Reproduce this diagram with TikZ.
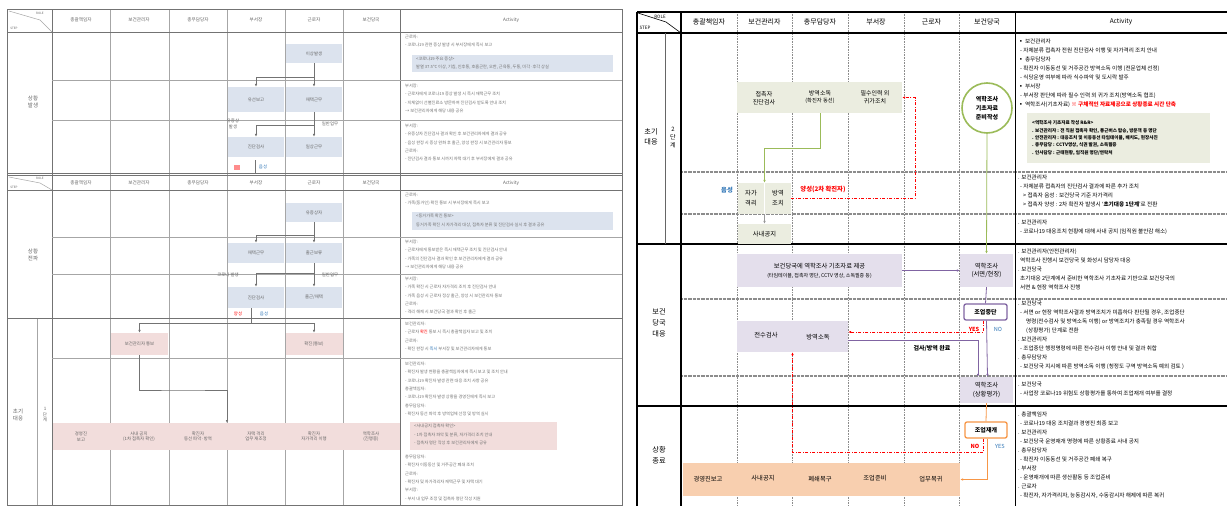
\documentclass[tikz,border=0pt]{standalone}
\usepackage{fontspec}
\setmainfont{Noto Sans CJK KR}
\usetikzlibrary{arrows.meta}
\definecolor{gfill}{HTML}{EBEDE0}
\definecolor{lilac}{HTML}{E4DFEC}
\definecolor{peach}{HTML}{F8CFAF}
\definecolor{cgreen}{HTML}{9BBB59}
\definecolor{cpur}{HTML}{8064A2}
\definecolor{corg}{HTML}{F79646}
\definecolor{cblue}{HTML}{2E75B6}
\definecolor{lblue}{HTML}{DCE3EE}
\definecolor{lpink}{HTML}{F2DDDC}
\tikzset{
  hdr/.style={font=\fontsize{7}{8}\selectfont},
  lhdr/.style={font=\fontsize{4.6}{5}\selectfont, text=black!60},
  bx/.style={inner sep=0, align=center, font=\fontsize{6}{7.6}\selectfont},
  txt/.style={inner sep=0, align=center, font=\fontsize{6}{7.6}\selectfont},
  act/.style={anchor=north west, inner sep=0, align=left, font=\fontsize{5.6}{9}\selectfont},
  lact/.style={anchor=north west, inner sep=0, align=left, font=\fontsize{4.2}{8.3}\selectfont, text=black!55},
  lbx/.style={inner sep=0, align=center, font=\fontsize{4.4}{5.4}\selectfont, text=black!60},
  arr/.style={-{Latex[length=3pt,width=2.6pt]}},
  colsep/.style={draw=black!45, line width=0.6pt, densely dotted},
  subrow/.style={draw=black!45, line width=1.6pt, dash pattern=on 0.8pt off 0.5pt},
  major/.style={draw=black, line width=1.1pt},
  grn/.style={draw=cgreen, line width=0.8pt},
  pur/.style={draw=cpur, line width=0.8pt},
  org/.style={draw=corg, line width=0.8pt},
  gry/.style={draw=black!40, line width=0.8pt},
  rdash/.style={draw=red, line width=0.9pt, dash pattern=on 3pt off 1.5pt on 1pt off 1.5pt},
  lline/.style={draw=black!35, line width=0.5pt},
  lmajor/.style={draw=black!55, line width=0.9pt},
  lconn/.style={draw=black!55, line width=0.6pt},
}
\begin{document}
\begin{tikzpicture}[x=1pt,y=-1pt]
\useasboundingbox (0,0) rectangle (1227,506);
\fill[white] (0,0) rectangle (1227,506);

%================ LEFT PANEL =================
\foreach \xx in {110,169,227,285,343} \draw[lline] (\xx,9) -- (\xx,505);
\draw[lmajor] (52,9) -- (52,505);
\draw[lmajor] (400,9) -- (400,505);
\draw[lmajor] (7,9) rectangle (622,505);
\draw[lline] (37,318) -- (37,505);
\draw[lmajor] (7,32) -- (622,32);
\draw[lline] (52,80) -- (622,80);
\draw[lline] (52,120) -- (622,120);
\draw[lmajor] (7,173) -- (622,173);
\draw[lmajor] (7,175) -- (622,175);
\draw[lmajor] (7,190) -- (622,190);
\draw[lline] (52,237) -- (622,237);
\draw[lline] (52,274) -- (622,274);
\draw[lmajor] (7,318) -- (622,318);
\draw[lline] (52,358) -- (622,358);
\draw[lline] (9,11) -- (40,20) -- (52,32);
\draw[lline] (9,177) -- (40,183) -- (52,190);
\node[lhdr, font=\fontsize{3}{3}\selectfont] at (40,13) {ROLE};
\node[lhdr, font=\fontsize{3}{3}\selectfont] at (14,28) {STEP};
\node[lhdr, font=\fontsize{3}{3}\selectfont] at (40,178) {ROLE};
\node[lhdr, font=\fontsize{3}{3}\selectfont] at (14,187) {STEP};
\foreach \yy in {20,183} {
  \node[lhdr] at (81,\yy) {총괄책임자};
  \node[lhdr] at (139,\yy) {보건관리자};
  \node[lhdr] at (198,\yy) {총무담당자};
  \node[lhdr] at (256,\yy) {부서장};
  \node[lhdr] at (314,\yy) {근로자};
  \node[lhdr] at (371,\yy) {보건당국};
  \node[lhdr] at (511,\yy) {Activity};
}
\node[lbx, font=\fontsize{5.5}{7}\selectfont] (ls1) at (33,102) {상황\\발생};
\node[lbx, font=\fontsize{5.5}{7}\selectfont] (ls2) at (33,255) {상황\\전파};
\node[lbx, font=\fontsize{5.5}{7}\selectfont] (ls3) at (18,415) {초기\\대응};
\node[lbx, font=\fontsize{4.5}{5.5}\selectfont] (ls3b) at (45,415) {1\\단\\계};

\node[lbx, fill=lblue, minimum width=56, minimum height=19] (a1) at (314,53.5) {이상발생};
\node[lbx, fill=lblue, minimum width=56, minimum height=25] (a2) at (256,99.5) {유선보고};
\node[lbx, fill=lblue, minimum width=56, minimum height=25] (a3) at (314,99.5) {재택근무};
\node[lbx, fill=lblue, minimum width=56, minimum height=20] (a4) at (256,147) {진단검사};
\node[lbx, fill=lblue, minimum width=56, minimum height=20] (a5) at (314,147) {일상근무};
\draw[lconn] (a1.south) -- (314,77);
\draw[lconn,arr] (314,77) -| (a2.north);
\draw[lconn,arr] (314,77) -- (a3.north);
\draw[lconn] (a3.south) -- (314,125);
\draw[lconn,arr] (314,125) -| (a4.north);
\draw[lconn,arr] (314,125) -- (a5.north);
\node[lbx] at (233,124) {유증상\\발생};
\node[lbx] at (330,124) {일반업무};
\node[lbx, fill=red!45, minimum width=6, minimum height=5] (a6) at (237,167) {};
\node[lbx, text=cblue] (a7) at (263,167) {음성};
\draw[lconn] (255,160) -- (255,173);

\node[lbx, fill=lblue, minimum width=56, minimum height=19] (b1) at (314,212.5) {유증상자};
\node[lbx, fill=lblue, minimum width=56, minimum height=20] (b2) at (256,253) {재택근무};
\node[lbx, fill=lblue, minimum width=56, minimum height=20] (b3) at (314,253) {출근보류};
\node[lbx, fill=lblue, minimum width=56, minimum height=21] (b4) at (256,297.5) {진단검사};
\node[lbx, fill=lblue, minimum width=56, minimum height=21] (b5) at (314,297.5) {출근/재택};
\draw[lconn] (b1.south) -- (314,235);
\draw[lconn,arr] (314,235) -| (b2.north);
\draw[lconn,arr] (314,235) -- (b3.north);
\draw[lconn] (b3.south) -- (314,273);
\draw[lconn,arr] (314,273) -| (b4.north);
\draw[lconn,arr] (314,273) -- (b5.north);
\node[lbx] at (228,275) {코로나 발생};
\node[lbx] at (330,275) {일반업무};
\node[lbx, text=red] (b6) at (238,314) {양성};
\node[lbx, text=cblue] (b7) at (264,314) {음성};
\draw[lconn] (251,308) -- (251,323);

\node[lbx, fill=lpink, minimum width=57, minimum height=22] (c1) at (139.5,344) {보건관리자 통보};
\node[lbx, fill=lpink, minimum width=57, minimum height=22] (c2) at (314,344) {확진(통보)};
\draw[lconn,arr] (251,323) -| (c1.north);
\draw[lconn,arr] (251,323) -| (c2.north);
\fill[lpink] (53,423) rectangle (400,450);
\coordinate (c3) at (227,423);
\draw[lconn,arr] (c1.south) |- (183,390) -| (c3);
\node[lbx] at (81,436.5) {경영진\\보고};
\node[lbx] at (139,436.5) {사내 공지\\(1차 접촉자 확인)};
\node[lbx] at (198,436.5) {확진자\\동선 파악·방역};
\node[lbx] at (256,436.5) {자택 격리\\업무 재조정};
\node[lbx] at (314,436.5) {확진자\\자가격리 이행};
\node[lbx] at (371,436.5) {역학조사\\(진행중)};

\node[lact] at (405,35) {근로자:\\ - 코로나19 관련 증상 발생 시 부서장에게 즉시 보고};
\fill[lblue] (412,55) rectangle (613,72);
\node[lact] at (416,57) {<코로나19 주요 증상>\\ 발열 37.5℃ 이상, 기침, 인후통, 호흡곤란, 오한, 근육통, 두통, 미각·후각 상실};
\node[lact] at (405,84) {부서장:\\ - 근로자에게 코로나19 증상 발생 시 즉시 재택근무 조치\\ - 지체없이 선별진료소 방문하여 진단검사 받도록 안내 조치\\ → 보건관리자에게 해당 내용 공유};
\node[lact] at (405,124) {부서장:\\ - 유증상자 진단검사 결과 확인 후 보건관리자에게 결과 공유\\ - 음성 판정 시 증상 완화 후 출근, 양성 판정 시 보건관리자 통보\\ 근로자:\\ - 진단검사 결과 통보 시까지 자택 대기 후 부서장에게 결과 공유};
\node[lact] at (405,193) {근로자:\\ - 가족(동거인) 확진 통보 시 부서장에게 즉시 보고};
\fill[lblue] (412,212) rectangle (613,230);
\node[lact] at (416,214) {<동거가족 확진 통보>\\ 동거가족 확진 시 자가격리 대상, 접촉자 분류 및 진단검사 실시 후 결과 공유};
\node[lact] at (405,240) {부서장:\\ - 근로자에게 통보받은 즉시 재택근무 조치 및 진단검사 안내\\ - 가족의 진단검사 결과 확인 후 보건관리자에게 결과 공유\\ → 보건관리자에게 해당 내용 공유};
\node[lact] at (405,277) {부서장:\\ - 가족 확진 시 근로자 자가격리 조치 후 진단검사 안내\\ - 가족 음성 시 근로자 정상 출근, 양성 시 보건관리자 통보\\ 근로자:\\ - 격리 해제 시 보건당국 결과 확인 후 출근};
\node[lact] at (405,322) {보건관리자:\\ - 근로자 {\color{red}확진} 통보 시 즉시 총괄책임자 보고 및 조치\\ 근로자:\\ - 확진 판정 시 {\color{cblue}즉시} 부서장 및 보건관리자에게 통보};
\node[lact] at (405,362) {보건관리자:\\ - 확진자 발생 현황을 총괄책임자에게 즉시 보고 및 조치 안내\\ - 코로나19 확진자 발생 관련 대응 조치 사항 공유\\ 총괄책임자:\\ - 코로나19 확진자 발생 상황을 경영진에게 즉시 보고\\ 총무담당자:\\ - 확진자 동선 파악 후 방역업체 선정 및 방역 실시};
\fill[lpink] (410,422) rectangle (557,450);
\node[lact] at (414,424) {<사내공지 접촉자 확인>\\ - 1차 접촉자 파악 및 분류, 자가격리 조치 안내\\ - 접촉자 명단 작성 후 보건관리자에게 공유};
\node[lact] at (405,455) {총무담당자:\\ - 확진자 이동동선 및 거주공간 폐쇄 조치\\ 근로자:\\ - 확진자 및 자가격리자 재택근무 및 자택 대기\\ 부서장:\\ - 부서 내 업무 조정 및 접촉자 명단 작성 지원};

%================ RIGHT PANEL =================
\foreach \xx in {737,792,848,904,959} \draw[colsep] (\xx,12) -- (\xx,506);
\draw[subrow] (681,172) -- (1227,172);
\draw[subrow] (681,214) -- (1227,214);
\draw[subrow] (681,299) -- (1227,299);
\draw[subrow] (681,376) -- (1227,376);
\draw[major] (637,12) -- (1227,12);
\draw[major] (637,33) -- (1227,33);
\draw[major] (637,244) -- (1227,244);
\draw[major] (637,406) -- (1227,406);
\draw[major] (637,12) -- (637,506);
\draw[major] (681,12) -- (681,506);
\draw[draw=black, line width=0.8pt] (1015,12) -- (1015,506);
\draw[draw=black!60, line width=0.7pt] (665,33) -- (665,244);
\draw[draw=black, line width=0.6pt] (638,13) -- (666,22) -- (681,33);
\node[font=\fontsize{4.5}{5}\selectfont, inner sep=0] at (660,17) {ROLE};
\node[font=\fontsize{4.5}{5}\selectfont, inner sep=0] at (645,28) {STEP};
\node[hdr] (h1) at (709,22) {총괄책임자};
\node[hdr] (h2) at (764.5,22) {보건관리자};
\node[hdr] (h3) at (820,22) {총무담당자};
\node[hdr] (h4) at (876,22) {부서장};
\node[hdr] (h5) at (931.5,22) {근로자};
\node[hdr] (h6) at (987,22) {보건당국};
\node[hdr, font=\fontsize{6.5}{8}\selectfont] (h7) at (1121,22) {Activity};
\node[txt, font=\fontsize{7.2}{10}\selectfont] (s1) at (651,137) {초기\\대응};
\node[txt, font=\fontsize{6}{8}\selectfont] (s1b) at (673,138) {2\\단\\계};
\node[txt, font=\fontsize{7.2}{11}\selectfont] (s2) at (659,323) {보건\\당국\\대응};
\node[txt, font=\fontsize{7.2}{11}\selectfont] (s3) at (659,455) {상황\\종료};

\node[bx, fill=gfill, minimum width=165, minimum height=31] (gband) at (819.5,97.5) {};
\node[txt] (g1) at (764,98) {접촉자\\진단검사};
\node[txt] (g2) at (820,97) {방역소독\\{\fontsize{5.3}{7}\selectfont(확진자 동선)}};
\node[txt] (g3) at (875,97) {필수인력 외\\귀가조치};
\node[circle, draw=cgreen, line width=1.6pt, fill=white, minimum size=50, inner sep=0, align=center, font=\fontsize{6}{9}\selectfont\bfseries] (circ) at (987,108) {역학조사\\기초자료\\준비작성};
\node[bx, fill=gfill, minimum width=53, minimum height=31] (jj) at (764.5,198.5) {};
\draw[white, line width=1pt] (jj.north) -- (jj.south);
\node[txt, font=\fontsize{6.3}{10}\selectfont] (jj1) at (751,198.5) {자가\\격리};
\node[txt, font=\fontsize{6.3}{10}\selectfont] (jj2) at (778,198.5) {방역\\조치};
\node[bx, fill=gfill, minimum width=53, minimum height=20, font=\fontsize{6.3}{8}\selectfont] (sanae) at (764.5,234) {사내공지};
\node[bx, fill=lilac, minimum width=165, minimum height=33, font=\fontsize{6.3}{9}\selectfont] (bk) at (819.5,270.5) {보건당국에 역학조사 기초자료 제공\\{\fontsize{5}{7}\selectfont(타임테이블, 접촉자 명단, CCTV 영상, 소독필증 등)}};
\node[bx, fill=lilac, minimum width=53, minimum height=33, font=\fontsize{6.3}{8.5}\selectfont] (ep1) at (986.5,270.5) {역학조사\\(서면/현장)};
\node[bx, draw=cpur, line width=1.3pt, rounded corners=2pt, fill=white, minimum width=43, minimum height=16, font=\fontsize{6}{7}\selectfont\bfseries] (stop) at (985.5,312) {조업중단};
\node[bx, fill=lilac, minimum width=111, minimum height=31] (ts) at (792.5,336.5) {};
\node[txt, font=\fontsize{6.3}{8}\selectfont] (ts1) at (766,335) {전수검사};
\node[txt, font=\fontsize{6.3}{8}\selectfont] (ts2) at (818,337) {방역소독};
\node[bx, fill=lilac, minimum width=53, minimum height=26, font=\fontsize{6.3}{8.5}\selectfont] (ep2) at (986.5,390) {역학조사\\(상황평가)};
\node[bx, draw=corg, line width=1.3pt, rounded corners=2pt, fill=white, minimum width=42, minimum height=16, font=\fontsize{6}{7}\selectfont\bfseries] (resume) at (986,430) {조업재개};
\node[bx, fill=peach, minimum width=277, minimum height=33] (oband) at (821.5,479.5) {};
\node[txt, font=\fontsize{6.3}{8}\selectfont] (o1) at (708,479) {경영진보고};
\node[txt, font=\fontsize{6.3}{8}\selectfont] (o2) at (763,478) {사내공지};
\node[txt, font=\fontsize{6.3}{8}\selectfont] (o3) at (820,479) {폐쇄복구};
\node[txt, font=\fontsize{6.3}{8}\selectfont] (o4) at (875,478) {조업준비};
\node[txt, font=\fontsize{6.3}{8}\selectfont] (o5) at (931,479) {업무복귀};

\draw[grn,arr] (g2 |- gband.south) -- (820,148) -| (jj.north);
\draw[rdash,arr] (jj.east) -- (915,198.5) |- (gband.east);
\draw[gry,arr] (jj.south) -- (sanae.north);
\draw[grn,arr] (circ.south) -- (ep1.north);
\draw[pur,arr] (bk.east) -- (ep1.west);
\draw[pur] (ep1.south) -- (stop.north);
\draw[rdash,arr] ([xshift=-2.5pt]stop.south) |- ([yshift=4.5pt]ts.east);
\draw[pur,arr] ([yshift=-3.5pt]ts.east) -| ([xshift=-8.5pt]ep2.north);
\draw[pur,arr] ([xshift=1pt]stop.south) -- ([xshift=1pt]ep2.north);
\draw[org] (ep2.south) -- (resume.north);
\draw[rdash,arr] ([xshift=-3pt]resume.south) -- ++(0,14) -| (ts.south);
\draw[org,arr] ([xshift=1pt]resume.south) |- (oband.east);

\node[txt, text=cblue, font=\fontsize{6.3}{8}\selectfont\bfseries] (l1) at (727,190) {음성};
\node[txt, text=red, font=\fontsize{6.3}{8}\selectfont\bfseries] (l2) at (823,189) {양성(2차 확진자)};
\node[txt, text=red, font=\fontsize{5.6}{7}\selectfont\bfseries] (l3) at (974,329) {YES};
\node[txt, text=cblue, font=\fontsize{5.6}{7}\selectfont] (l4) at (998,329) {NO};
\node[txt, font=\fontsize{6}{8}\selectfont\bfseries] (l5) at (932,349) {검사/방역 완료};
\node[txt, text=red, font=\fontsize{5.6}{7}\selectfont\bfseries] (l6) at (975,446) {NO};
\node[txt, text=cblue, font=\fontsize{5.6}{7}\selectfont] (l7) at (1000,446) {YES};

\node[act] (r1) at (1018,39) {▪ 보건관리자\\
\hspace*{2pt}- 자체분류 접촉자 전원 진단검사 이행 및 자가격리 조치 안내\\
▪ 총무담당자\\
\hspace*{2pt}- 확진자 이동동선 및 거주공간 방역소독 이행 (전문업체 선정)\\
\hspace*{2pt}- 식당운영 여부에 따라 식수파악 및 도시락 발주\\
▪ 부서장\\
\hspace*{2pt}- 부서장 판단에 따라 필수 인력 외 귀가 조치(방역소독 협조)\\
▪ 역학조사(기초자료) {\color{red}\bfseries ※ 구체적인 자료제공으로 상황종료 시간 단축}};
\node[bx, fill=gfill, minimum width=183, minimum height=50] (rbox) at (1118.5,138) {};
\node[act, font=\fontsize{4.6}{7.4}\selectfont\bfseries] (rboxt) at (1032,120.5) {<역학조사 기초자료 작성 R\&R>\\
. 보건관리자 : 전 직원 접촉자 확인, 통근버스 탑승, 방문객 등 명단\\
. 안전관리자 : 대응조치 및 이동동선 타임테이블, 배치도, 현장사진\\
. 총무담당 : CCTV영상, 식권 발권, 소독필증\\
. 인사담당 : 근태현황, 임직원 명단/연락처};
\node[act] (r2) at (1018,175) {. 보건관리자\\
\hspace*{2pt}- 자체분류 접촉자의 진단검사 결과에 따른 추가 조치\\
\hspace*{5pt}> 접촉자 음성 : 보건당국 기준 자가격리\\
\hspace*{5pt}> 접촉자 양성 : 2차 확진자 발생시 `{\bfseries 초기대응 1단계}'로 전환};
\node[act] (r3) at (1018,220) {. 보건관리자\\
\hspace*{2pt}- 코로나19 대응조치 현황에 대해 사내 공지 (임직원 불안감 해소)};
\node[act] (r4) at (1018,249) {. 보건관리자(안전관리자)\\
\hspace*{2pt}역학조사 진행시 보건당국 및 화성시 담당자 대응\\
. 보건당국\\
\hspace*{2pt}초기대응 2단계에서 준비한 역학조사 기초자료 기반으로 보건당국의\\
\hspace*{2pt}서면 \& 현장 역학조사 진행};
\node[act] (r5) at (1018,301) {. 보건당국\\
\hspace*{2pt}- 서면 or 현장 역학조사결과 방역조치가 미흡하다 판단될 경우, 조업중단\\
\hspace*{8pt}명령(전수검사 및 방역소독 이행) or 방역조치가 충족될 경우 역학조사\\
\hspace*{8pt}(상황평가) 단계로 전환\\
. 보건관리자\\
\hspace*{2pt}- 조업중단 행정명령에 따른 전수검사 이행 안내 및 결과 취합\\
. 총무담당자\\
\hspace*{2pt}- 보건당국 지시에 따른 방역소독 이행 (청정도 구역 방역소독 예외 검토 )};
\node[act] (r6) at (1018,382) {. 보건당국\\
\hspace*{2pt}- 사업장 코로나19 위험도 상황평가를 통하여 조업재개 여부를 결정};
\node[act] (r7) at (1018,412) {. 총괄책임자\\
\hspace*{2pt}- 코로나19 대응 조치결과 경영진 최종 보고\\
. 보건관리자\\
\hspace*{2pt}- 보건당국 운영재개 명령에 따른 상황종료 사내 공지\\
. 총무담당자\\
\hspace*{2pt}- 확진자 이동동선 및 거주공간 폐쇄 복구\\
. 부서장\\
\hspace*{2pt}- 운영재개에 따른 생산활동 등 조업준비\\
. 근로자\\
\hspace*{2pt}- 확진자, 자가격리자, 능동감시자, 수동감시자 해제에 따른 복귀};
\end{tikzpicture}
\end{document}
